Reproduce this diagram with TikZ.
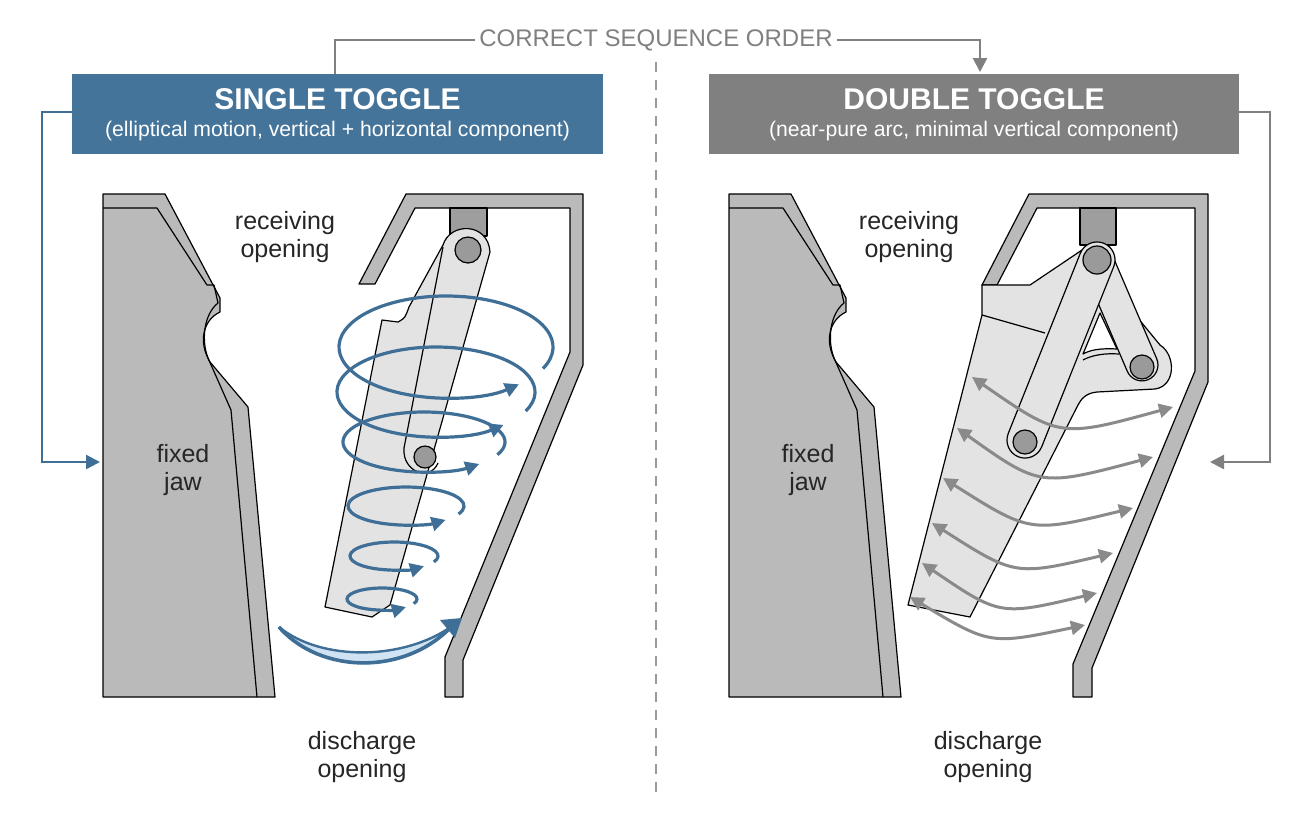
\documentclass[tikz,border=0pt]{standalone}
\usepackage{fontspec}
\setmainfont{Liberation Sans}
\usetikzlibrary{arrows.meta,calc}
\definecolor{steel}{HTML}{44749A}
\definecolor{hgray}{HTML}{808080}
\definecolor{jawg}{HTML}{BABABA}
\definecolor{swing}{HTML}{E3E3E3}
\definecolor{blu}{HTML}{3F6F96}
\definecolor{lblu}{HTML}{CFE3F3}
\definecolor{arrg}{HTML}{8A8A8A}
\definecolor{pin}{HTML}{9A9A9A}
\begin{document}
\begin{tikzpicture}[x=0.5pt,y=-0.5pt,
  outl/.style={draw=black,line width=0.6pt,line join=round},
  lbl/.style={font=\fontsize{12.5}{14}\selectfont,align=center,text=black!85},
  bl/.style={draw=blu,line width=1.6pt,-{Triangle[length=7pt,width=7pt]}},
  ga/.style={draw=arrg,line width=1.5pt,{Triangle[length=7pt,width=7pt]}-{Triangle[length=7pt,width=7pt]}},
  conn/.style={draw=hgray,line width=1.1pt},
  pinst/.style={fill=pin,draw=black,line width=0.6pt}]
\useasboundingbox (0,0) rectangle (1312,816);
\fill[white] (0,0) rectangle (1312,816);
% divider
\draw[hgray!80,dashed,line width=0.8pt,dash pattern=on 5pt off 4pt] (656,62) -- (656,792);
% headers
\node[fill=steel,minimum width=265.5pt,minimum height=40pt,inner sep=0] (hs) at (337.5,114) {};
\node[text=white,font=\bfseries\fontsize{15}{17}\selectfont] (hs1) at (337.5,99) {SINGLE TOGGLE};
\node[text=white,font=\fontsize{10.6}{12}\selectfont] (hs2) at (337.5,131) {(elliptical motion, vertical + horizontal component)};
\node[fill=hgray,minimum width=265pt,minimum height=40pt,inner sep=0] (hd) at (974,114) {};
\node[text=white,font=\bfseries\fontsize{15}{17}\selectfont] (hd1) at (974,99) {DOUBLE TOGGLE};
\node[text=white,font=\fontsize{10.6}{12}\selectfont] (hd2) at (974,131) {(near-pure arc, minimal vertical component)};
% sequence connector
\node[text=hgray,font=\fontsize{12}{14}\selectfont,inner sep=2pt] (seq) at (656,40) {CORRECT SEQUENCE ORDER};
\coordinate (c1) at (335,74);
\coordinate (c2) at (980,72);
\draw[conn] (c1) |- (seq.west);
\draw[conn,-{Triangle[length=7pt,width=7pt]}] (seq.east) -| (c2);
\coordinate (l1) at (72,112); \coordinate (l2) at (100,462);
\draw[draw=blu,line width=1.2pt,-{Triangle[length=7pt,width=7pt]}] (l1) -- (42,112) -- (42,462) -- (l2);
\coordinate (r1) at (1239,112); \coordinate (r2) at (1210,462);
\draw[conn,line width=1.2pt,-{Triangle[length=7pt,width=7pt]}] (r1) -- (1270,112) -- (1270,462) -- (r2);
% fixed jaws
\foreach \s in {0,626}{
\begin{scope}[xshift=\s*0.5pt]
\draw[outl,fill=jawg] (103,194) -- (165,194) -- (220,298) -- (220,312) .. controls (203,320) and (198,342) .. (210,362) -- (248,407) -- (275,697) -- (103,697) -- cycle;
\draw[outl] (103,208) -- (157,208) -- (207,285) -- (214,285) -- (218,303) .. controls (204,314) and (201,340) .. (208,358) -- (231,410) -- (257,697);
\end{scope}}
% frames
\draw[outl,fill=jawg] (406,194) -- (583,194) -- (583,365) -- (463,660) -- (463,697) -- (445,697) -- (445,657) -- (570,352) -- (570,208) -- (415,208) -- (375,284) -- (359,284) -- cycle;
\draw[outl,fill=jawg] (1029,194) -- (1208,194) -- (1208,382) -- (1092,668) -- (1092,697) -- (1073,697) -- (1073,664) -- (1195,371) -- (1195,208) -- (1037,208) -- (997,285) -- (982,285) -- cycle;
% rods
\draw[outl,fill=jawg!85!black] (450,208) rectangle (487,236);
\draw[outl,fill=jawg!85!black] (1080,208) rectangle (1116,245);
% single swing jaw
\draw[outl,fill=swing] (325,607) -- (382,320) -- (398,322) .. controls (405,318) .. (409,307) -- (443,245) .. controls (450,222) and (488,222) .. (490,252) -- (390,605) -- (372,617) -- cycle;
\draw[outl] (443,247) -- (404,448) .. controls (402,472) and (430,482) .. (438,463);
\draw[pinst] (468,250) circle[radius=13];
\draw[pinst] (425,457) circle[radius=11];
% ellipses
\foreach \cx/\cy/\rx/\ry in {446/347/107/51, 436/392/99/45, 424/442/81/30, 406/506/58/19, 394/556/44/14, 382/599/35/11}{
  \draw[bl] ($(\cx,\cy)+(25:\rx*0.5pt and -\ry*0.5pt)$) arc[start angle=-25,end angle=313,x radius=\rx*0.5pt,y radius=\ry*0.5pt];
}
% big crescent arrow
\draw[draw=blu,line width=1.2pt,fill=lblu] (279,627) .. controls (320,674) and (405,676) .. (452,626) .. controls (405,660) and (322,662) .. (279,627) -- cycle;
\draw[draw=blu,line width=1.8pt] (279,627) .. controls (320,674) and (405,676) .. (452,626);
\fill[blu] (462,618) -- (440,620) -- (455,638) -- cycle;
% double swing jaw
\draw[outl,fill=swing] (908,605) -- (982,315) -- (982,285) -- (1030,285) -- (1082,250) -- (1160,345) .. controls (1176,355) and (1176,386) .. (1155,389) -- (1097,392) .. controls (1086,393) and (1081,399) .. (1078,405) -- (970,617) -- cycle;
\draw[outl] (982,315) -- (1045,333);
\draw[outl,fill=white] (1100,313) -- (1117,349) .. controls (1100,348) and (1090,350) .. (1083,354) -- cycle;
\draw[outl] (1083,360) .. controls (1092,355) and (1105,353) .. (1119,354);
\node[outl,fill=swing,minimum width=73pt,minimum height=16pt,rounded corners=8pt,rotate=113.2,inner sep=0] (lk2) at ($(1097,260)!0.5!(1142,365)$) {};
\node[outl,fill=swing,minimum width=115pt,minimum height=18pt,rounded corners=9pt,rotate=68.2,inner sep=0] (lk1) at ($(1097,260)!0.5!(1025,440)$) {};
\draw[pinst] (1097,260) circle[radius=14];
\draw[pinst] (1142,367) circle[radius=12];
\draw[pinst] (1025,442) circle[radius=12];
% gray arrows
\draw[ga] (972,377) .. controls (1060,438) .. (1173,407);
\draw[ga] (957,428) .. controls (1040,487) .. (1153,457);
\draw[ga] (943,478) .. controls (1030,533) .. (1133,508);
\draw[ga] (932,523) .. controls (1015,576) .. (1113,553);
\draw[ga] (922,563) .. controls (1000,616) .. (1097,593);
\draw[ga] (910,597) .. controls (990,645) .. (1085,625);
% labels
\node[lbl] (rcv1) at (285,237) {receiving\\opening};
\node[lbl] (fx1) at (183,470) {fixed\\jaw};
\node[lbl] (dis1) at (362,757) {discharge\\opening};
\node[lbl] (rcv2) at (909,237) {receiving\\opening};
\node[lbl] (fx2) at (808,470) {fixed\\jaw};
\node[lbl] (dis2) at (988,757) {discharge\\opening};
\end{tikzpicture}
\end{document}
